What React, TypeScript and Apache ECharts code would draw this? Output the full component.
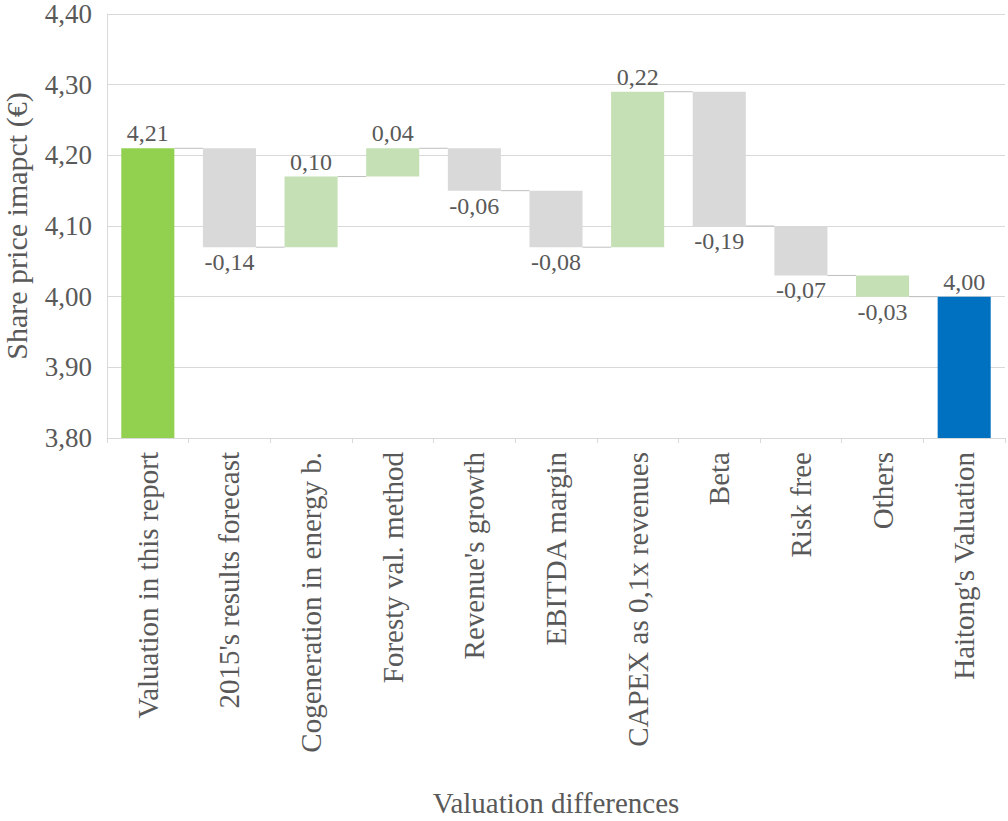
import React, { useEffect, useRef } from "react";
import * as echarts from "echarts";

// Categories along the x axis
const categories: string[] = [
  "Valuation in this report",
  "2015's results forecast",
  "Cogeneration in energy b.",
  "Foresty val. method",
  "Revenue's growth",
  "EBITDA margin",
  "CAPEX as 0,1x revenues",
  "Beta",
  "Risk free",
  "Others",
  "Haitong's Valuation",
];

// First and last entries are totals; the rest are changes to the running value
const deltas: number[] = [4.21, -0.14, 0.1, 0.04, -0.06, -0.08, 0.22, -0.19, -0.07, -0.03, 4.0];
const isTotal: boolean[] = [true, false, false, false, false, false, false, false, false, false, true];
const barColors: string[] = [
  "#92D050",
  "#D9D9D9",
  "#C5E0B4",
  "#C5E0B4",
  "#D9D9D9",
  "#D9D9D9",
  "#C5E0B4",
  "#D9D9D9",
  "#D9D9D9",
  "#C5E0B4",
  "#0070C0",
];

const yMin = 3.8;
const yMax = 4.4;
const yStep = 0.1;

const FONT = "Liberation Serif";
const TEXT = "#595959";

const fmt = (v: number) => v.toFixed(2).replace(".", ",");

export default function App() {
  const ref = useRef<HTMLDivElement>(null);

  useEffect(() => {
    if (!ref.current) return;
    const chart = echarts.init(ref.current, undefined, { renderer: "svg" });

    // Running levels: invisible base + visible segment
    const bases: number[] = [];
    const spans: number[] = [];
    const ends: number[] = [];
    let level = 0;
    deltas.forEach((d, i) => {
      if (isTotal[i]) {
        bases.push(0);
        spans.push(d);
        level = d;
      } else {
        const next = level + d;
        bases.push(Math.min(level, next));
        spans.push(Math.abs(d));
        level = next;
      }
      ends.push(level);
    });

    const barRatio = 0.65;

    chart.setOption({
      animation: false,
      textStyle: { fontFamily: FONT },
      grid: { left: 107, right: 3, top: 14, bottom: 383, containLabel: false, outerBoundsMode: "none" },
      xAxis: {
        type: "category",
        data: categories,
        name: "Valuation differences",
        nameLocation: "middle",
        nameGap: 350,
        nameTextStyle: { fontFamily: FONT, fontSize: 29, color: TEXT },
        axisLine: { show: true, lineStyle: { color: "#D9D9D9", width: 1 } },
        axisTick: { show: true, length: 5, lineStyle: { color: "#D9D9D9" } },
        axisLabel: {
          rotate: 90,
          interval: 0,
          margin: 14,
          fontFamily: FONT,
          fontSize: 29,
          color: TEXT,
        },
        splitLine: { show: false },
      },
      yAxis: {
        type: "value",
        min: yMin,
        max: yMax,
        interval: yStep,
        name: "Share price imapct (€)",
        nameLocation: "middle",
        nameGap: 76,
        nameTextStyle: { fontFamily: FONT, fontSize: 30, color: TEXT },
        axisLine: { show: true, lineStyle: { color: "#D9D9D9", width: 1 } },
        axisTick: { show: false },
        axisLabel: {
          margin: 15,
          fontFamily: FONT,
          fontSize: 27,
          lineHeight: 28,
          color: TEXT,
          formatter: (v: number) => fmt(v),
        },
        splitLine: { show: true, lineStyle: { color: "#D9D9D9", width: 1 } },
      },
      series: [
        {
          type: "bar",
          stack: "wf",
          barWidth: `${barRatio * 100}%`,
          itemStyle: { color: "transparent" },
          emphasis: { disabled: true },
          silent: true,
          data: bases,
        },
        {
          type: "bar",
          stack: "wf",
          barWidth: `${barRatio * 100}%`,
          data: spans.map((s, i) => ({
            value: s,
            itemStyle: { color: barColors[i] },
            label: {
              show: true,
              position: deltas[i] >= 0 ? "top" : "bottom",
              distance: 3,
              formatter: () => fmt(deltas[i]),
              fontFamily: FONT,
              fontSize: 24,
              color: TEXT,
            },
          })),
        },
        {
          type: "custom",
          silent: true,
          z: 1,
          data: ends.slice(0, ends.length - 1).map((v, i) => [i, v]),
          renderItem: (params: any, api: any) => {
            const i = api.value(0);
            const v = api.value(1);
            const band = api.size([1, 0])[0];
            const half = (band * barRatio) / 2;
            const p1 = api.coord([i, v]);
            const p2 = api.coord([i + 1, v]);
            return {
              type: "line",
              shape: { x1: p1[0] + half, y1: p1[1], x2: p2[0] - half, y2: p2[1] },
              style: { stroke: "#BFBFBF", lineWidth: 1 },
            };
          },
        },
      ],
    });

    return () => chart.dispose();
  }, []);

  return (
    <div
      ref={ref}
      style={{ position: "fixed", left: 0, top: 0, width: 1008, height: 821, background: "#fff" }}
    />
  );
}
